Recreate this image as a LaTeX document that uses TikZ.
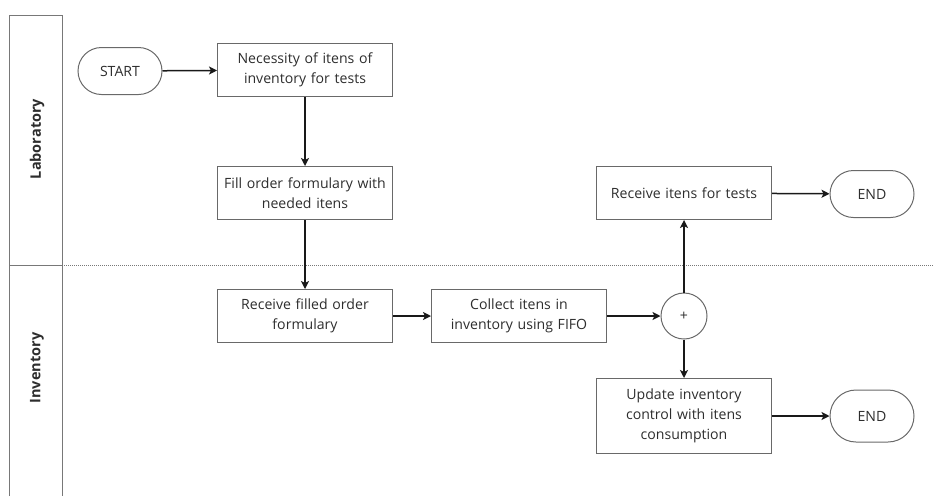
\documentclass[tikz,border=0pt]{standalone}
\usepackage{fontspec}
\setmainfont{Open Sans}
\usetikzlibrary{arrows.meta,positioning,shapes.misc}
\definecolor{laneline}{RGB}{120,120,120}
\definecolor{boxline}{RGB}{105,105,105}
\definecolor{flowtext}{RGB}{45,45,45}
\definecolor{flowarrow}{RGB}{25,25,25}

\begin{document}
\begin{tikzpicture}[x=1pt,y=-1pt,
  font=\fontsize{14.1}{20}\selectfont,
  task/.style={draw=boxline, line width=1pt, text=flowtext, align=center,
    text width=170pt, minimum width=175pt, minimum height=53pt, inner sep=0pt},
  term/.style={rounded rectangle, draw=boxline, line width=1pt, text=flowtext,
    minimum width=84pt, minimum height=47pt, inner sep=0pt},
  junction/.style={circle, draw=boxline, line width=1pt, text=flowtext,
    minimum size=46pt, inner sep=0pt},
  flow/.style={draw=flowarrow, line width=1.5pt, -{Stealth[length=8pt,width=8pt,inset=2pt]}}]
\useasboundingbox (0,0) rectangle (933,496);
\foreach \lane/\ytop/\ybot/\ymid in {Laboratory/15/265/139, Inventory/265/496/368} {
  \draw[laneline, line width=1pt] (9,\ybot) |- (62,\ytop) -- (62,\ybot);
  \node[rotate=90, font=\fontsize{14.5}{15}\selectfont\bfseries, text=flowtext] (lane-\lane) at (37,\ymid) {\lane};
}
\draw[laneline, line width=1pt, dash pattern=on 1pt off 1pt] (62,265) -- (933,265);

\node[term] (start) at (120,71) {START};
\node[task] (necessity) at (305,70) {Necessity of itens of\\inventory for tests};
\node[task] (fillorder) at (305,193) {Fill order formulary with\\needed itens};
\node[task] (receiveorder) at (305,316) {Receive filled order\\formulary};
\node[task] (collect) at (519,316) {Collect itens in\\inventory using FIFO};
\node[junction] (join) at (684,316) {+};
\node[task] (receivetests) at (684,193) {Receive itens for tests};
\node[task, minimum height=75pt] (update) at (684,416) {Update inventory\\control with itens\\consumption};
\node[term] (endlab) at (872,194) {END};
\node[term, minimum height=52pt] (endinv) at (872,416) {END};

\draw[flow] (start) -- (necessity);
\draw[flow] (necessity) -- (fillorder);
\draw[flow] (fillorder) -- (receiveorder);
\draw[flow] (receiveorder) -- (collect);
\draw[flow] (collect) -- (join);
\draw[flow] (join) -- (receivetests);
\draw[flow] (join) -- (update);
\draw[flow] (receivetests) -- (endlab);
\draw[flow] (update) -- (endinv);
\end{tikzpicture}
\end{document}
